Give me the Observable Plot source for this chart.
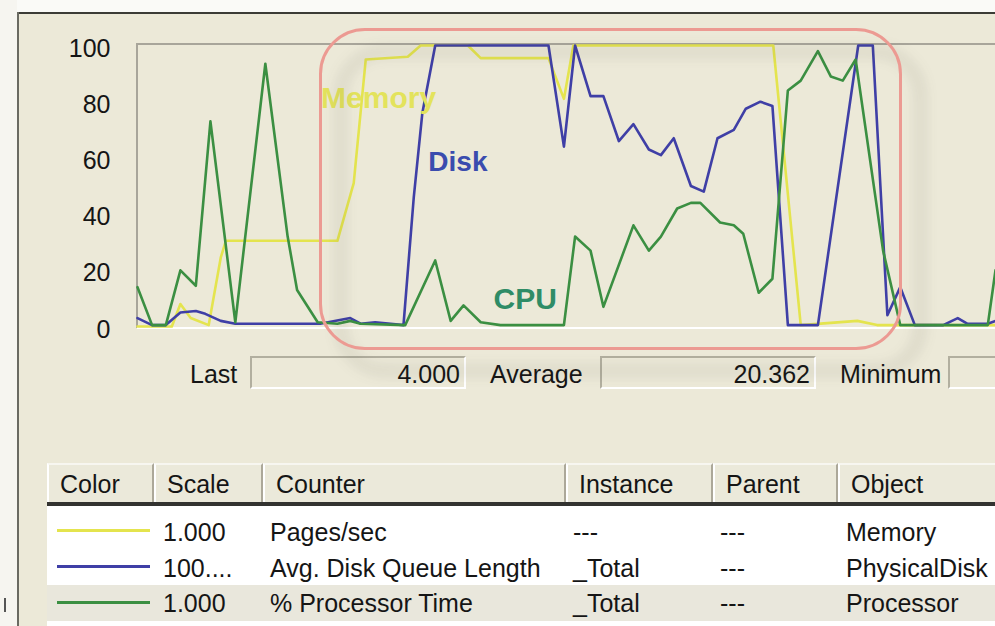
<!DOCTYPE html>
<html><head><meta charset="utf-8">
<script src="https://cdn.jsdelivr.net/npm/d3@7"></script>
<script src="https://cdn.jsdelivr.net/npm/@observablehq/plot@0.6"></script>
<style>
html,body{margin:0;padding:0;}
body{width:995px;height:626px;overflow:hidden;background:#ECE9D8;position:relative;font-family:"Liberation Sans",Arial,sans-serif;font-size:25px;color:#151515;}
.abs{position:absolute;box-sizing:border-box;}
.txt{position:absolute;white-space:nowrap;line-height:30px;height:30px;}
</style></head><body>
<script>
// ---- data (x = sample time, 0..100 s window) ----
const memT = [0, 4.0, 5.0, 6.2, 8.3, 9.7, 10.3, 23.3, 25.2, 26.6, 31.5, 33.0, 38.5, 40.0, 47.9, 49.7, 50.8, 74.1, 77.3, 83.9, 86.2, 100];
const memV = [0, 0, 8, 3, 0.5, 24.5, 30.5, 30.5, 51, 95, 96, 100, 100, 95.5, 95.5, 81, 100, 100, 0.5, 2, 0.5, 0.5];

const diskT = [0, 1.7, 3.3, 5.0, 6.8, 7.9, 9.7, 11.4, 21.3, 24.8, 26.0, 27.7, 31.0, 32.2, 33.2, 34.7, 47.9, 49.7, 51.0, 52.8, 54.3, 56.1, 57.8, 59.6, 61.0, 62.5, 64.5, 66.0, 67.6, 69.5, 70.9, 72.6, 74.0, 75.8, 79.3, 84.0, 85.7, 87.4, 88.9, 90.6, 93.9, 95.6, 96.7, 99.1, 100];
const diskV = [3, 0.5, 0.5, 5, 5.5, 4.5, 2, 1, 1, 3, 1, 1.5, 0.5, 46, 76, 100, 100, 64, 100, 82, 82, 66, 72, 63, 61, 67, 50, 48, 67, 70, 77.5, 80, 78.5, 0.5, 0.5, 100, 100, 4, 14, 0.5, 0.5, 3, 1, 1, 2];

const cpuT = [0, 1.7, 3.3, 5.0, 6.8, 8.5, 11.4, 14.9, 17.5, 18.6, 21.0, 23.3, 24.8, 26.0, 31.2, 34.7, 36.5, 38.0, 40.0, 42.3, 49.7, 51.0, 52.8, 54.3, 57.8, 59.6, 61.0, 62.9, 64.5, 65.6, 67.9, 69.5, 70.6, 72.4, 74.0, 75.8, 77.3, 79.3, 80.8, 82.2, 83.7, 86.9, 88.9, 99.1, 100];
const cpuV = [14, 0.5, 0.5, 20, 14.5, 73, 1.5, 93.5, 32, 13, 1.5, 1, 2, 1, 0.5, 23.5, 2, 7.5, 1.5, 0.5, 0.5, 32, 27, 7, 36, 27, 32, 42, 44, 44, 37, 36, 33, 12, 17, 84, 87.5, 98, 89, 87.5, 95, 27, 0.5, 0.5, 20];

const yTicks = [0, 20, 40, 60, 80, 100];

const seriesNames = ["Memory", "Disk", "CPU"];
const seriesColors = ["#E4E44E", "#3F3FA6", "#3B8F42"];
const labelColors = ["#E3E35C", "#3A4CAE", "#2F8C66"];
const labelSizes = [30, 28, 30];
const labelT = [21.4, 33.9, 41.5];
const labelV = [81, 58.7, 9.6];

const statLabels = ["Last", "Average", "Minimum"];
const statValues = ["4.000", "20.362", ""];

const headers = ["Color", "Scale", "Counter", "Instance", "Parent", "Object"];
const rowScales = ["1.000", "100....", "1.000"];
const rowCounters = ["Pages/sec", "Avg. Disk Queue Length", "% Processor Time"];
const rowInstances = ["---", "_Total", "_Total"];
const rowParents = ["---", "---", "---"];
const rowObjects = ["Memory", "PhysicalDisk", "Processor"];

// ---- helpers ----
function el(cls, style, text) {
  const d = document.createElement("div");
  d.className = cls;
  Object.assign(d.style, style);
  if (text != null) d.textContent = text;
  document.body.appendChild(d);
  return d;
}
const toRows = (T, V) => T.map((t, i) => ({t, v: V[i]}));

// ---- window chrome ----
el("abs", {left: "0px", top: "0px", width: "995px", height: "12px", background: "#FAFAF7"});
el("abs", {left: "0px", top: "0px", width: "17px", height: "626px", background: "#F6F5F0"});
el("abs", {left: "17px", top: "12px", width: "978px", height: "2px", background: "#3C3C36"});
el("abs", {left: "17px", top: "12px", width: "2px", height: "614px", background: "#6A6A62"});
el("abs", {left: "4px", top: "598px", width: "2px", height: "14px", background: "#555"});

// plot frame
el("abs", {left: "137px", top: "43px", width: "858px", height: "2px", background: "#A8A59A"});
el("abs", {left: "136px", top: "43px", width: "2px", height: "285px", background: "#A8A59A"});
el("abs", {left: "137px", top: "327px", width: "858px", height: "2px", background: "#FFFFFF"});

// ---- chart ----
const chart = Plot.plot({
  width: 995,
  height: 360,
  marginLeft: 137,
  marginRight: 0,
  marginTop: 45,
  marginBottom: 34,
  style: {background: "transparent", fontFamily: "Liberation Sans, Arial, sans-serif", fontSize: "25px", color: "#151515", overflow: "visible"},
  x: {domain: [0, 100], axis: null},
  y: {domain: [0, 100], axis: null},
  marks: [
    Plot.axisY({ticks: yTicks, tickSize: 0, tickPadding: 27, label: null, dy: 3, fill: "#151515"}),
    Plot.line(toRows(memT, memV), {x: "t", y: "v", stroke: seriesColors[0], strokeWidth: 2.6}),
    Plot.line(toRows(diskT, diskV), {x: "t", y: "v", stroke: seriesColors[1], strokeWidth: 2.6}),
    Plot.line(toRows(cpuT, cpuV), {x: "t", y: "v", stroke: seriesColors[2], strokeWidth: 2.6}),
    Plot.text(seriesNames.map((s, i) => ({s, t: labelT[i], v: labelV[i], c: labelColors[i], f: labelSizes[i]})), {
      x: "t", y: "v", text: "s", fill: "c", textAnchor: "start", lineAnchor: "middle",
      fontSize: (d) => d.f, fontWeight: "bold", fontFamily: "Liberation Sans, Arial, sans-serif"
    })
  ]
});
chart.style.position = "absolute";
chart.style.left = "0px";
chart.style.top = "0px";
document.body.appendChild(chart);

// ---- highlight rounded rectangle ----
el("abs", {left: "319px", top: "28px", width: "583px", height: "322px", border: "3.5px solid #EC9A92",
  borderRadius: "46px", filter: "drop-shadow(20px 22px 7px rgba(60,60,50,0.35))", pointerEvents: "none", zIndex: 5});

// ---- stats row ----
const statLabelX = [190, 490, 840];
const statBoxX = [250, 600, 948];
const statBoxW = [216, 216, 80];
statLabels.forEach((s, i) => {
  el("txt", {left: statLabelX[i] + "px", top: "359px"}, s);
  el("abs", {left: statBoxX[i] + "px", top: "356px", width: statBoxW[i] + "px", height: "33px",
    borderTop: "2px solid #B2AF9F", borderLeft: "2px solid #B2AF9F", borderBottom: "2px solid #FFFFFF", borderRight: "2px solid #FFFFFF"});
  if (statValues[i]) el("txt", {left: statBoxX[i] + "px", width: (statBoxW[i] - 6) + "px", top: "359px", textAlign: "right"}, statValues[i]);
});

// ---- table ----
const colX = [47, 154, 263, 566, 713, 838, 1000];
el("abs", {left: "47px", top: "506px", width: "948px", height: "79px", background: "#FFFFFF"});
el("abs", {left: "47px", top: "585px", width: "948px", height: "36px", background: "#E9E7DC"});
el("abs", {left: "47px", top: "621px", width: "948px", height: "5px", background: "#FFFFFF"});
headers.forEach((h, i) => {
  el("abs", {left: colX[i] + "px", top: "463px", width: (colX[i + 1] - colX[i]) + "px", height: "40px",
    background: "#EBE9DA", borderTop: "2px solid #F7F6F0", borderLeft: "2px solid #FFFFFF", borderRight: "2px solid #ACA899"});
  el("txt", {left: (colX[i] + 13) + "px", top: "469px"}, h);
});
el("abs", {left: "47px", top: "502px", width: "948px", height: "4px", background: "#333330"});

const rowTop = [517, 553, 588];
const rowLineY = [530, 566, 602];
rowCounters.forEach((c, r) => {
  el("abs", {left: "57px", top: (rowLineY[r] - 1) + "px", width: "93px", height: "2.5px", background: seriesColors[r]});
  el("txt", {left: "163px", top: rowTop[r] + "px"}, rowScales[r]);
  el("txt", {left: "270px", top: rowTop[r] + "px"}, c);
  el("txt", {left: "573px", top: rowTop[r] + "px"}, rowInstances[r]);
  el("txt", {left: "720px", top: rowTop[r] + "px"}, rowParents[r]);
  el("txt", {left: "846px", top: rowTop[r] + "px"}, rowObjects[r]);
});
</script>
</body></html>
